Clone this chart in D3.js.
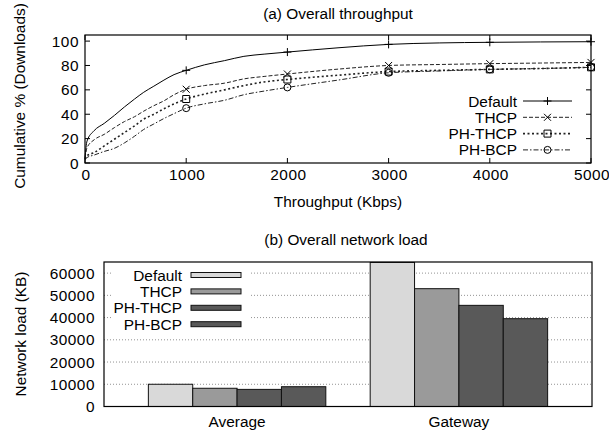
<!DOCTYPE html>
<html>
<head>
<meta charset="utf-8">
<script src="https://cdn.jsdelivr.net/npm/d3@7"></script>
<style>
body{margin:0;background:#fff;}
text{font-family:"Liberation Sans",Arial,Helvetica,sans-serif;font-size:15.4px;fill:#000;}
text.num{letter-spacing:0.5px;}
</style>
</head>
<body>
<div id="chart"></div>
<script>
// (a) throughput CDF, sampled along the curves
var thrX = [0, 20, 90, 190, 290, 390, 490, 580, 680, 780, 880, 1000, 1180, 1380, 1570, 1770, 2000, 2500, 3000, 3500, 4000, 4500, 5000];
var cdfDefault = [4, 18, 26.5, 32.5, 39, 46, 52.5, 58, 63, 68, 72.5, 76, 80.5, 84, 87.5, 89.3, 91, 94.5, 97.3, 98.5, 99, 99.3, 99.5];
var cdfTHCP    = [4, 12.5, 19, 23.5, 29, 34, 38, 42.5, 47, 51, 56, 60.5, 63.5, 65.5, 69, 71, 73, 77, 80, 80.8, 81.5, 82, 82.5];
var cdfPHTHCP  = [3, 6, 8.5, 14, 19.5, 25, 30.5, 36, 40, 44.5, 48.5, 52.5, 56.5, 60, 63.5, 66.5, 68.5, 72, 75, 76, 76.8, 77.5, 78.5];
var cdfPHBCP   = [3, 4.5, 6.5, 9.5, 12, 16.5, 22, 27.5, 32, 36.5, 40.5, 45, 48.5, 51.5, 56, 59, 62, 68, 74, 75.5, 76.8, 77.5, 78.5];
var markX = [1000, 2000, 3000, 4000, 5000];
var thrTicks = [0, 1000, 2000, 3000, 4000, 5000];
var pctTicks = [0, 20, 40, 60, 80, 100];

// (b) network load
var schemes = ["Default", "THCP", "PH-THCP", "PH-BCP"];
var places = ["Average", "Gateway"];
var loadAverage = [10000, 8200, 7700, 8900];
var loadGateway = [64800, 53000, 45500, 39500];
var loadTicks = [0, 10000, 20000, 30000, 40000, 50000, 60000];

var W = 609, H = 436;
var svg = d3.select("#chart").append("svg").attr("width", W).attr("height", H);

/* ---------- (a) ---------- */
var series = [
  {name:"Default", v:cdfDefault, dash:null, sw:1, mark:"plus"},
  {name:"THCP", v:cdfTHCP, dash:"4,2", sw:1, mark:"cross"},
  {name:"PH-THCP", v:cdfPHTHCP, dash:"2,2.5", sw:1.6, mark:"square"},
  {name:"PH-BCP", v:cdfPHBCP, dash:"5,2,1.5,2", sw:1, mark:"circle"}
];

var x = d3.scaleLinear().domain([0, 5000]).range([85, 591]);
var y = d3.scaleLinear().domain([0, 105]).range([163, 35]);

var ga = svg.append("g");
ga.append("text").attr("x", 338).attr("y", 19).attr("text-anchor", "middle").text("(a) Overall throughput");

// ticks, inward on all four sides
ga.selectAll(".yt").data(pctTicks).enter().append("path")
  .attr("d", function(d){ return "M" + x(0) + "," + y(d) + "h5M" + x(5000) + "," + y(d) + "h-5"; })
  .attr("stroke", "#000");
ga.selectAll(".xt").data(thrTicks).enter().append("path")
  .attr("d", function(d){ return "M" + x(d) + "," + y(0) + "v-5M" + x(d) + "," + y(105) + "v5"; })
  .attr("stroke", "#000");

ga.selectAll(".yl").data(pctTicks).enter().append("text").attr("class", "num")
  .attr("x", 79).attr("y", function(d){ return y(d); }).attr("dy", "0.36em")
  .attr("text-anchor", "end").text(function(d){ return d; });
ga.selectAll(".xl").data(thrTicks).enter().append("text").attr("class", "num")
  .attr("x", function(d){ return x(d) + 1; }).attr("y", 180)
  .attr("text-anchor", "middle").text(function(d){ return d; });

ga.append("text").attr("x", 338).attr("y", 207).attr("text-anchor", "middle").text("Throughput (Kbps)");
ga.append("text").attr("transform", "translate(25,96)rotate(-90)").attr("text-anchor", "middle").text("Cumulative % (Downloads)");

var line = d3.line()
  .x(function(d, i){ return x(thrX[i]); })
  .y(function(d){ return y(d); })
  .curve(d3.curveMonotoneX);

function marker(g, type, cx, cy){
  var s = 3.5;
  var p;
  if (type == "plus") p = "M" + (cx - s - 0.5) + "," + cy + "h" + (2 * s + 1) + "M" + cx + "," + (cy - s - 0.5) + "v" + (2 * s + 1);
  else if (type == "cross") p = "M" + (cx - s) + "," + (cy - s) + "l" + 2 * s + "," + 2 * s + "M" + (cx - s) + "," + (cy + s) + "l" + 2 * s + "," + (-2 * s);
  else if (type == "square") p = "M" + (cx - s) + "," + (cy - s) + "h" + 2 * s + "v" + 2 * s + "h" + (-2 * s) + "Z";
  if (type == "circle") g.append("circle").attr("cx", cx).attr("cy", cy).attr("r", s)
    .attr("fill", "none").attr("stroke", "#000");
  else g.append("path").attr("d", p).attr("fill", "none").attr("stroke", "#000");
}

series.forEach(function(s, k){
  ga.append("path").datum(s.v).attr("d", line)
    .attr("fill", "none").attr("stroke", k == 0 ? "#000" : "#222")
    .attr("stroke-width", s.sw).attr("stroke-dasharray", s.dash);
  markX.forEach(function(m){
    marker(ga, s.mark, x(m), y(s.v[thrX.indexOf(m)]));
  });
  // legend
  var ly = 101 + k * 16.3;
  ga.append("text").attr("x", 517).attr("y", ly).attr("dy", "0.36em").attr("text-anchor", "end").text(s.name);
  ga.append("path").attr("d", "M523," + ly + "H572")
    .attr("stroke", k == 0 ? "#000" : "#222").attr("stroke-width", s.sw).attr("stroke-dasharray", s.dash);
  marker(ga, s.mark, 547.5, ly);
});

ga.append("rect").attr("x", x(0)).attr("y", y(105)).attr("width", x(5000) - x(0)).attr("height", y(0) - y(105))
  .attr("fill", "none").attr("stroke", "#000").attr("stroke-width", 1.2);

/* ---------- (b) ---------- */
var fills = ["#d9d9d9", "#9a9a9a", "#595959", "#595959"];
var loads = [loadAverage, loadGateway];

var x0 = d3.scaleBand().domain(places).range([104, 592]).padding(0.2);
var x1 = d3.scaleBand().domain(schemes).range([0, x0.bandwidth()]);
var y2 = d3.scaleLinear().domain([0, 65000]).range([406.5, 262]);

var gb = svg.append("g");
gb.append("text").attr("x", 346).attr("y", 245).attr("text-anchor", "middle").text("(b) Overall network load");

gb.selectAll(".grid").data(loadTicks).enter().append("path")
  .attr("d", function(d){ return "M104," + y2(d) + "H592"; })
  .attr("stroke", "#777").attr("stroke-width", 0.8).attr("stroke-dasharray", "1,2");

gb.selectAll(".yl").data(loadTicks).enter().append("text").attr("class", "num")
  .attr("x", 95).attr("y", function(d){ return y2(d); }).attr("dy", "0.36em")
  .attr("text-anchor", "end").text(function(d){ return d; });

gb.append("text").attr("transform", "translate(26,334)rotate(-90)").attr("text-anchor", "middle").text("Network load (KB)");

// legend box hides the grid behind it
gb.append("rect").attr("x", 113).attr("y", 263).attr("width", 136).attr("height", 70).attr("fill", "#fff");

places.forEach(function(p, i){
  gb.selectAll(".b" + i).data(loads[i]).enter().append("rect")
    .attr("x", function(d, j){ return x0(p) + x1(schemes[j]); })
    .attr("y", function(d){ return y2(d); })
    .attr("width", x1.bandwidth())
    .attr("height", function(d){ return y2(0) - y2(d); })
    .attr("fill", function(d, j){ return fills[j]; })
    .attr("stroke", "#111").attr("stroke-width", 1);
  gb.append("text").attr("x", x0(p) + x0.bandwidth() / 2).attr("y", 427).attr("text-anchor", "middle").text(p);
});

schemes.forEach(function(s, j){
  var ly = 275 + j * 16.4;
  gb.append("text").attr("x", 182).attr("y", ly).attr("dy", "0.36em").attr("text-anchor", "end").text(s);
  gb.append("rect").attr("x", 191).attr("y", ly - 2.5).attr("width", 50).attr("height", 5)
    .attr("fill", fills[j]).attr("stroke", "#111").attr("stroke-width", 1);
});

gb.append("rect").attr("x", 104).attr("y", 262).attr("width", 488).attr("height", 144.5)
  .attr("fill", "none").attr("stroke", "#000").attr("stroke-width", 1.2);
</script>
</body>
</html>
